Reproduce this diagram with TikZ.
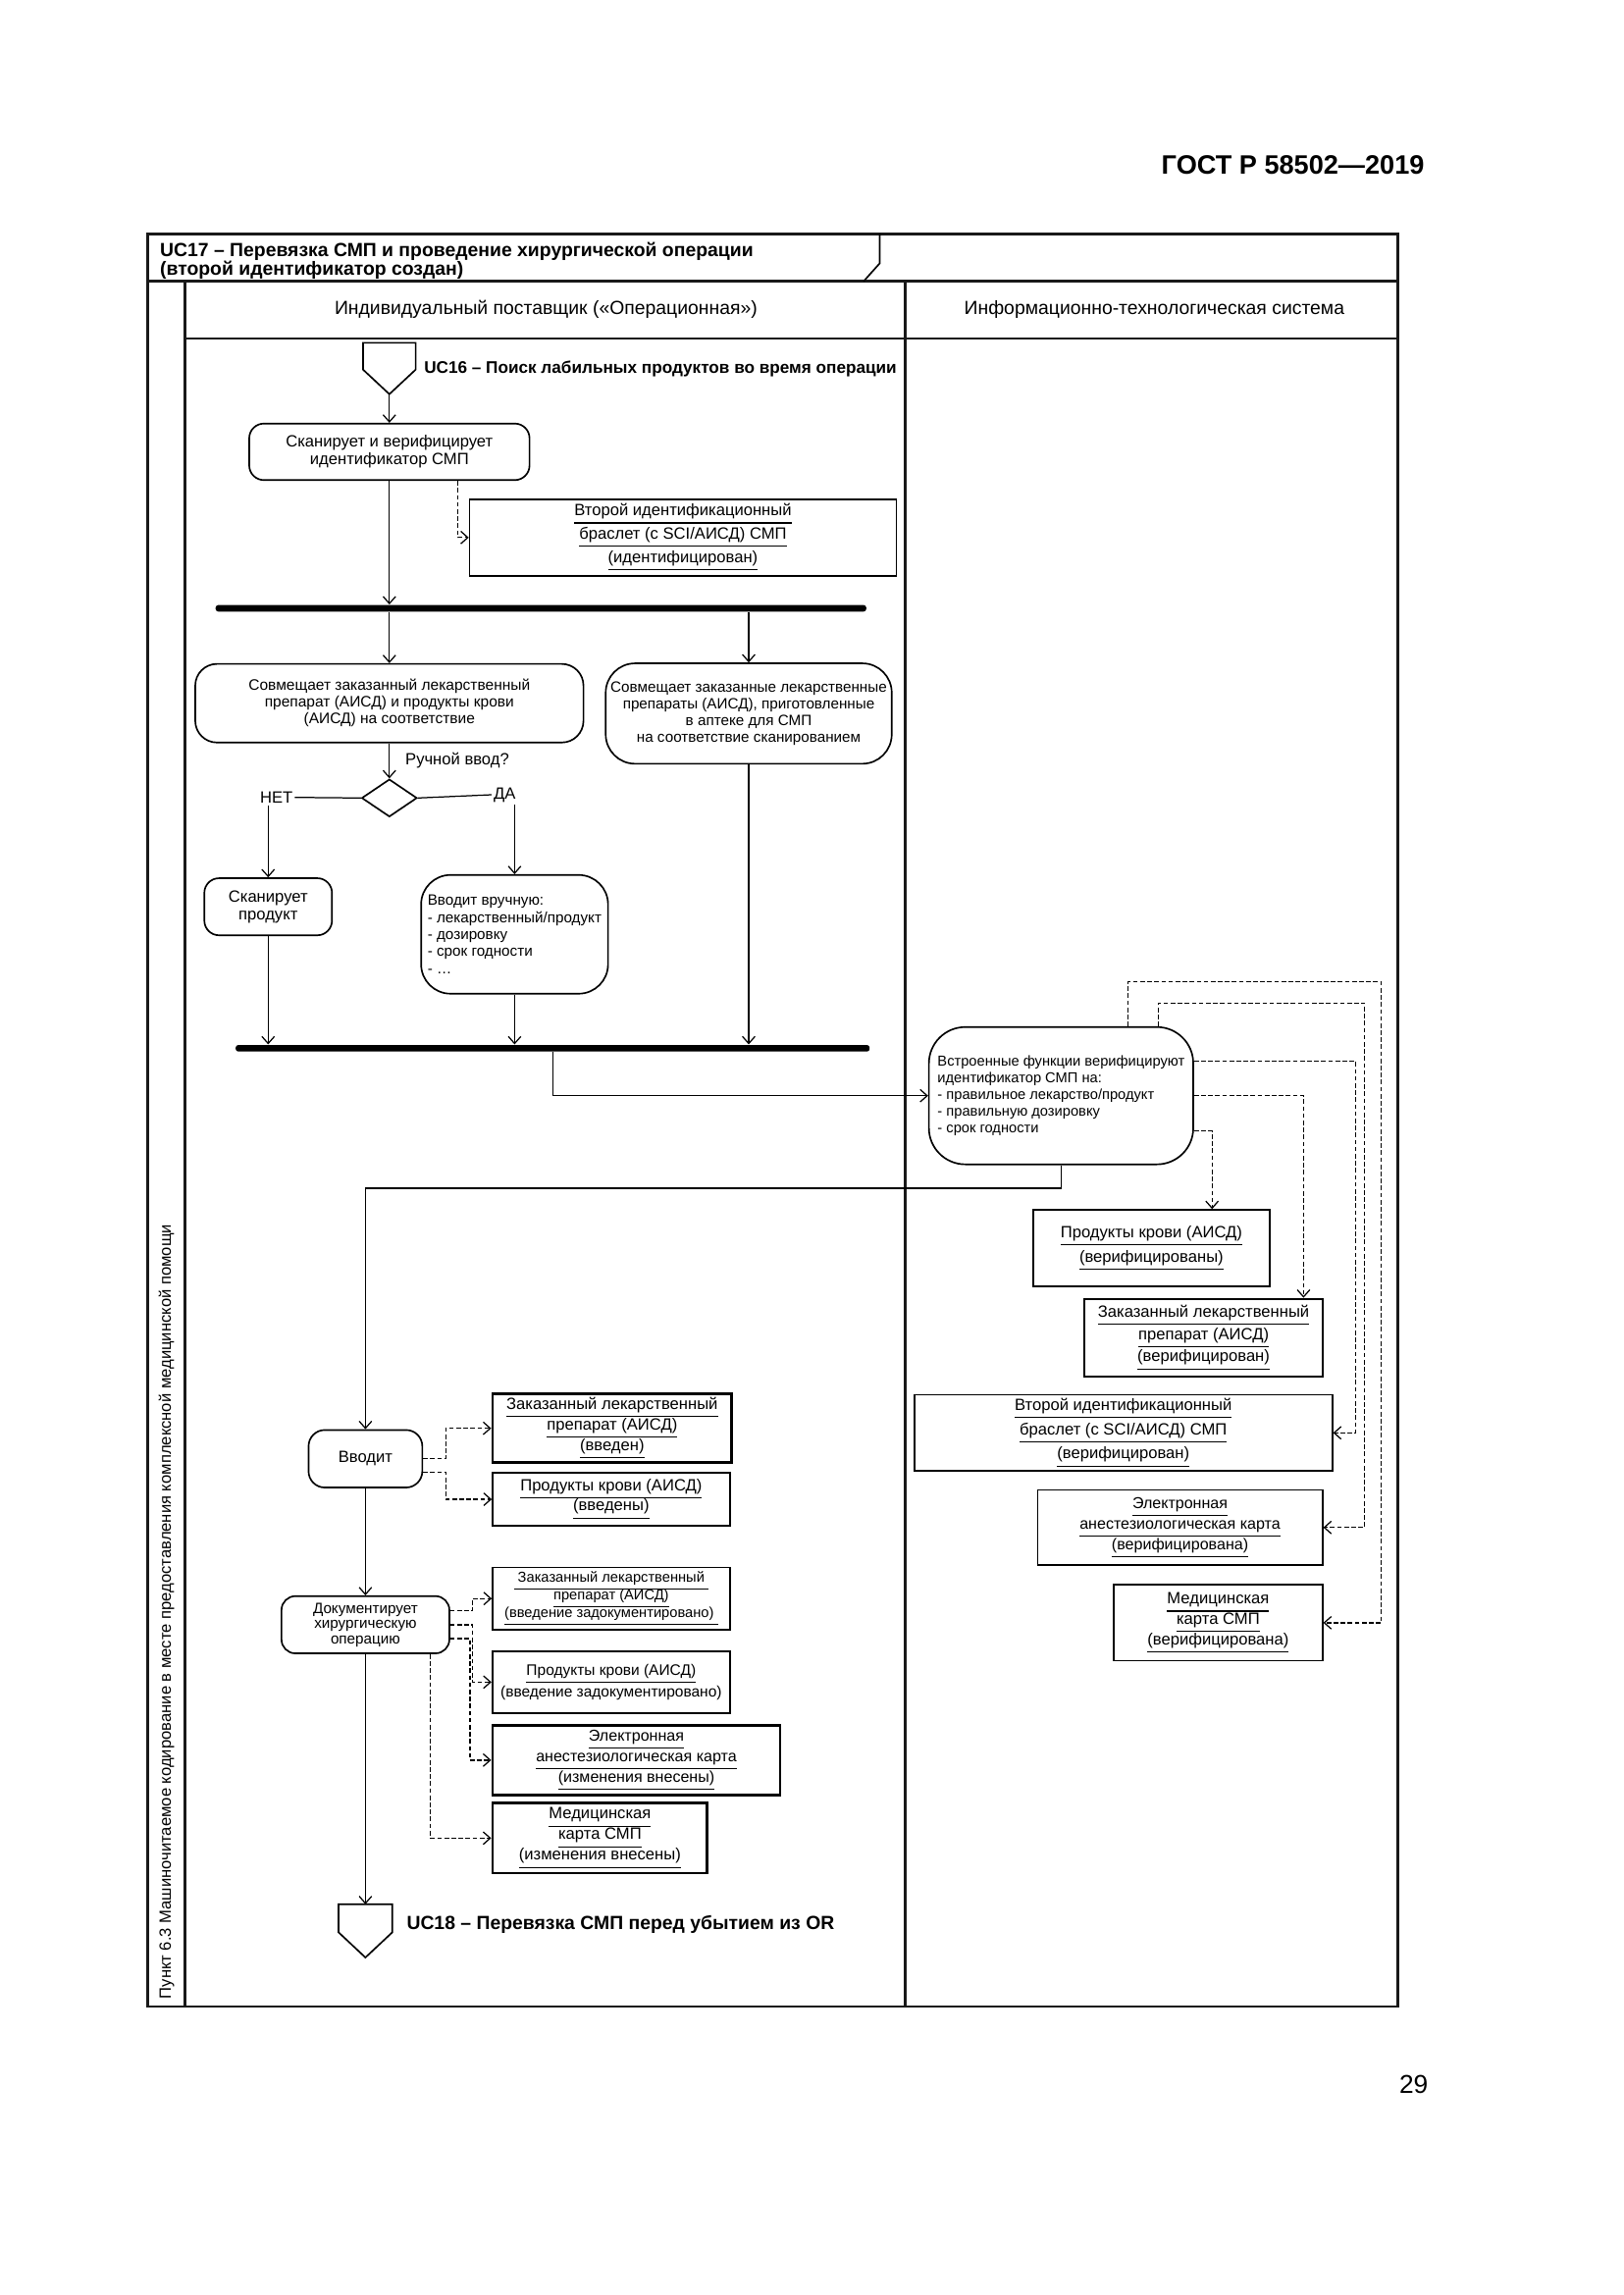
\documentclass[tikz,border=0pt]{standalone}
\usepackage{fontspec}
\setmainfont{Liberation Sans}
\usetikzlibrary{arrows.meta,shapes.geometric,calc}
\setlength{\lineskiplimit}{-5pt}
\setlength{\lineskip}{0pt}
\newcommand\fb[2]{\fontsize{#1}{#2}\selectfont}
\newcommand\uu[1]{\underline{#1\vphantom{(}}}
\begin{document}
\begin{tikzpicture}[x=0.18936mm,y=-0.18936mm,
  frame/.style={line width=0.9pt, draw=black!90},
  act/.style={draw, line width=0.6pt, rounded corners=#1, inner sep=0pt, align=center, font=\fb{6}{6.2}},
  act/.default=1.9mm,
  obj/.style={draw, line width=0.6pt, inner sep=0pt, align=center},
  objb/.style={obj, line width=1.0pt},
  sz/.style 2 args={minimum width=#1*0.18936mm, minimum height=#2*0.18936mm},
  bar/.style={fill=black, inner sep=0pt, rounded corners=0.35mm},
  arr/.style={-{Straight Barb[length=2.6pt,width=4.6pt]}, line width=0.45pt},
  darr/.style={arr, dash pattern=on 1.7pt off 0.9pt},
  ln/.style={line width=0.45pt},
  lbl/.style={inner sep=0.6pt, font=\fb{6}{6.2}},
  txt/.style={inner sep=0pt},
]
\fill[white] (0,0) rectangle (1109,1568);
\useasboundingbox (0,0) rectangle (1109,1568);

% page header / footer
\node[txt, anchor=east, font=\bfseries\fb{9.8}{11}] (gost) at (973.4,112.8) {ГОСТ Р 58502—2019};
\node[txt, anchor=east, font=\fb{9.5}{11}] (pnum) at (976,1424) {29};

% frame
\draw[frame] (100.8,159.8) rectangle (955,1371);
\draw[frame] (100.8,192.2) -- (955,192.2);
\draw[frame] (126.5,192.2) -- (126.5,1371);
\draw[frame] (618.5,192.2) -- (618.5,1371);
\draw[frame] (126.5,231.3) -- (955,231.3);
\draw[line width=0.6pt] (601,159.8) -- (601,179.9) -- (590,192.2);

\node[txt, anchor=west, align=left, font=\bfseries\fb{7}{6.9}] (title) at (109,178)
  {UC17 – Перевязка СМП и проведение хирургической операции\\(второй идентификатор создан)};
\node[txt, font=\fb{7}{8}] (lane1) at (373,211.2) {Индивидуальный поставщик («Операционная»)};
\node[txt, font=\fb{7}{8}] (lane2) at (788.6,211.2) {Информационно-технологическая система};
\node[txt, rotate=90, anchor=west, font=\fb{6}{7}] (vlabel) at (113.7,1366)
  {Пункт 6.3 Машиночитаемое кодирование в месте предоставления комплексной медицинской помощи};

% UC16 connector
\coordinate (uc16tip) at (266,269.3);
\draw[line width=0.6pt] (248,234.2) -- (284,234.2) -- (284,252.5) -- (uc16tip) -- (248,252.5) -- cycle;
\node[txt, anchor=west, font=\bfseries\fb{6.2}{7}] (uc16lbl) at (289.4,252) {UC16 – Поиск лабильных продуктов во время операции};

% left lane actions
\node[act=1.9mm, sz={191.5}{38.6}, font=\fb{6}{6.4}] (scanver) at (266,308.7) {Сканирует и верифицирует\\идентификатор СМП};
\node[obj, sz={291.5}{52.1}, font=\fb{6}{8.6}] (obj1) at (466.55,367.25)
  {\uu{Второй идентификационный}\\\uu{браслет (с SCI/АИСД) СМП}\\\uu{(идентифицирован)}};
\node[bar, sz={444.5}{4.5}] (bar1) at (369.55,415.6) {};
\node[act=2.8mm, sz={265.2}{53.7}, font=\fb{5.6}{6.1}] (boxA) at (266,480.45)
  {Совмещает заказанный лекарственный\\препарат (АИСД) и продукты крови\\(АИСД) на соответствие};
\node[act=3.8mm, sz={195.4}{68.6}, font=\fb{5.5}{6.2}] (boxB) at (511.5,487.5)
  {Совмещает заказанные лекарственные\\препараты (АИСД), приготовленные\\в аптеке для СМП\\на соответствие сканированием};
\node[diamond, draw, line width=0.6pt, inner sep=0pt, sz={37.8}{25.7}] (dec) at (266,545.2) {};
\node[lbl, anchor=west] (q) at (275.5,519.5) {Ручной ввод?};
\node[lbl] (net) at (188.8,544.8) {НЕТ};
\node[lbl] (da) at (344.7,543) {ДА};
\node[act=1.9mm, sz={87.2}{39}, font=\fb{6}{6.6}] (scanp) at (183.2,619.5) {Сканирует\\продукт};
\node[act=3.8mm, sz={127.7}{81.1}, align=left, font=\fb{5.5}{6.3}] (manual) at (351.55,638.35)
  {Вводит вручную:\\- лекарственный/продукт\\- дозировку\\- срок годности\\- …};
\node[bar, sz={433.1}{4.5}] (bar2) at (377.55,716.2) {};

% IT system
\node[act=4.7mm, sz={180.6}{93.8}, align=left, font=\fb{5.3}{6.1}] (itbox) at (724.9,748.6)
  {Встроенные функции верифицируют\\идентификатор СМП на:\\- правильное лекарство/продукт\\- правильную дозировку\\- срок годности};
\node[obj, line width=0.8pt, sz={161.8}{51.9}, font=\fb{6}{9}] (prodv) at (786.6,852.75)
  {\uu{Продукты крови (АИСД)}\\\uu{(верифицированы)}};
\node[objb, sz={162.9}{52.9}, font=\fb{6}{8.2}] (zakv) at (822.25,914.05)
  {\uu{Заказанный лекарственный}\\\uu{препарат (АИСД)}\\\uu{(верифицирован)}};
\node[obj, sz={285.6}{51.9}, font=\fb{6}{9}] (braceletv) at (767.4,978.95)
  {\uu{Второй идентификационный}\\\uu{браслет (с SCI/АИСД) СМП}\\\uu{(верифицирован)}};
\node[obj, sz={194.7}{51.4}, font=\fb{5.8}{7.6}] (elv) at (806.15,1043.6)
  {\uu{Электронная}\\\uu{анестезиологическая карта}\\\uu{(верифицирована)}};
\node[obj, sz={142.6}{52}, font=\fb{6}{7.5}] (medv) at (832.2,1108.7)
  {\uu{Медицинская}\\\uu{карта СМП}\\\uu{(верифицирована)}};

% left lane bottom
\node[act=2.1mm, sz={77.7}{39.3}] (vvodit) at (249.65,996.65) {Вводит};
\node[objb, sz={163.4}{46.9}, font=\fb{6}{7.5}] (zakin) at (418.2,975.85)
  {\uu{Заказанный лекарственный}\\\uu{препарат (АИСД)}\\\uu{(введен)}};
\node[obj, sz={162.1}{36.3}, font=\fb{6}{7.5}] (prodin) at (417.55,1024.35)
  {\uu{Продукты крови (АИСД)}\\\uu{(введены)}};
\node[act=1.8mm, sz={114.7}{39.1}, font=\fb{5.5}{5.6}] (docs) at (249.65,1110.05)
  {Документирует\\хирургическую\\операцию};
\node[obj, sz={162.1}{42.7}, font=\fb{5.3}{6.5}] (zakdoc) at (417.55,1092.15)
  {\uu{\ Заказанный лекарственный\ }\\\uu{препарат (АИСД)}\\\uu{(введение задокументировано)\ }};
\node[obj, line width=0.8pt, sz={162.1}{42.5}, font=\fb{5.6}{7.8}] (proddoc) at (417.55,1149.25)
  {\uu{Продукты крови (АИСД)}\\(введение задокументировано)};
\node[objb, sz={196.5}{47.5}, font=\fb{5.8}{7.5}] (eldoc) at (434.75,1202.55)
  {\uu{Электронная}\\\uu{анестезиологическая карта}\\\uu{(изменения внесены)}};
\node[objb, sz={146.7}{47.7}, font=\fb{6}{7.6}] (meddoc) at (409.85,1255.85)
  {\uu{Медицинская}\\\uu{карта СМП}\\\uu{(изменения внесены)}};

% UC18 connector
\coordinate (uc18top) at (249.65,1301);
\draw[line width=0.6pt] (231.3,1301) -- (268,1301) -- (268,1320.2) -- (249.65,1337.4) -- (231.3,1320.2) -- cycle;
\node[txt, anchor=west, font=\bfseries\fb{7}{8}] (uc18lbl) at (277.5,1315) {UC18 – Перевязка СМП перед убытием из OR};

% connectors
\draw[arr] (uc16tip) -- (scanver.north);
\draw[arr] (scanver.south) -- (scanver.south |- bar1.north);
\draw[darr] ($(scanver.south)+(46.8,0)$) |- (obj1.west);
\draw[arr] (boxA.north |- bar1.south) -- (boxA.north);
\draw[arr] (boxB.north |- bar1.south) -- (boxB.north);
\draw[arr] (boxA.south) -- (dec.north);
\draw[ln] (dec.west) -- (net.east);
\draw[ln] (dec.east) -- (da.west);
\draw[arr] (scanp.north |- net.south) -- (scanp.north);
\draw[arr] (manual.north |- da.south) -- (manual.north);
\draw[arr] (scanp.south) -- (scanp.south |- bar2.north);
\draw[arr] (manual.south) -- (manual.south |- bar2.north);
\draw[arr] (boxB.south) -- (boxB.south |- bar2.north);
\draw[arr] (bar2.south) |- (itbox.west);
\draw[arr] (itbox.south) -- ++(0,15.7) -| (vvodit.north);

\draw[darr] ($(itbox.north)+(45.6,0)$) -- ++(0,-30.2) -| ($(medv.east)+(39.7,0)$) -- (medv.east);
\draw[darr] ($(itbox.north)+(66.6,0)$) -- ++(0,-15.9) -| ($(elv.east)+(28.3,0)$) -- (elv.east);
\draw[darr] ($(itbox.east)+(0,-23.6)$) -| ($(braceletv.east)+(15.4,0)$) -- (braceletv.east);
\draw[darr] (itbox.east) -| ($(zakv.north east)+(-14.1,0)$);
\draw[darr] ($(itbox.east)+(0,24.1)$) -| ($(prodv.north east)+(-40.2,0)$);

\draw[arr] (vvodit.south) -- (docs.north);
\draw[darr] (vvodit.east) -- ++(15.4,0) |- (zakin.west);
\draw[darr] ($(vvodit.east)+(0,9)$) -- ++(15.4,0) |- (prodin.west);
\draw[darr] ($(docs.east)+(0,-9.5)$) -- ++(15.4,0) |- (zakdoc.west);
\draw[darr] (docs.east) -- ++(15.4,0) |- (proddoc.west);
\draw[darr] ($(docs.east)+(0,9.5)$) -- ++(13.5,0) |- (eldoc.west);
\draw[darr] ($(docs.south)+(44.5,0)$) |- (meddoc.west);
\draw[arr] (docs.south) -- (uc18top);
\end{tikzpicture}
\end{document}
